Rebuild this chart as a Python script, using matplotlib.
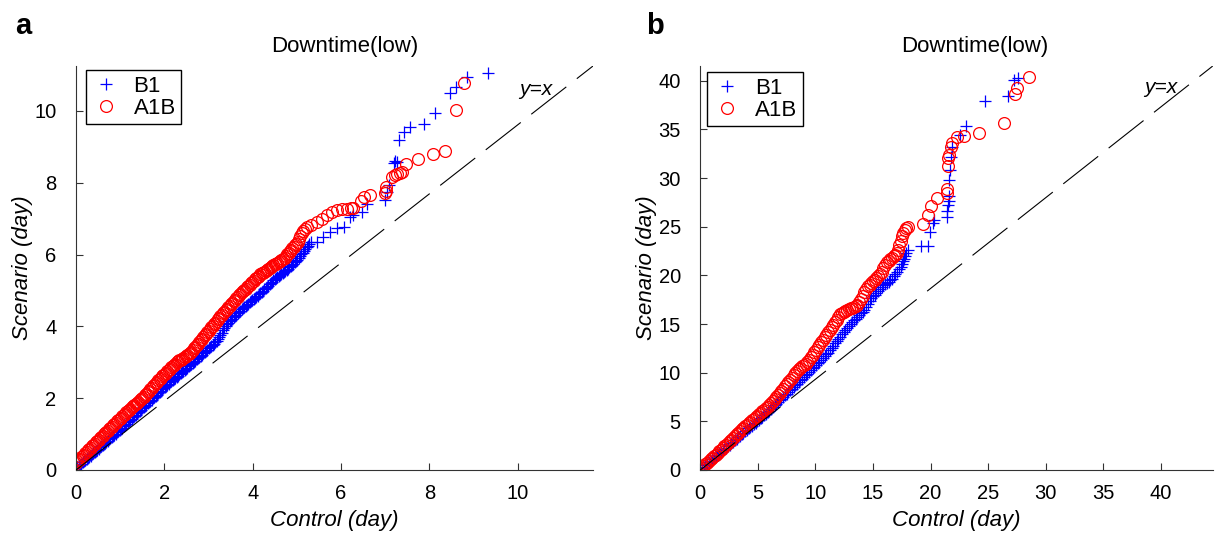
import matplotlib
matplotlib.use("Agg")
import matplotlib.pyplot as plt

plt.rcParams['font.family'] = ['Liberation Sans', 'DejaVu Sans']

# ---------------- Panel a: (control quantile, scenario quantile) in days ----------------
a_b1 = [
    (0.00, 0.050), (0.03, 0.082), (0.06, 0.114), (0.09, 0.146), (0.12, 0.178), (0.15, 0.211),
    (0.18, 0.243), (0.21, 0.275), (0.24, 0.307), (0.27, 0.339), (0.30, 0.371), (0.33, 0.403),
    (0.36, 0.435), (0.39, 0.467), (0.42, 0.499), (0.45, 0.532), (0.48, 0.564), (0.51, 0.596),
    (0.54, 0.628), (0.57, 0.660), (0.60, 0.692), (0.63, 0.724), (0.66, 0.756), (0.69, 0.788),
    (0.72, 0.820), (0.75, 0.853), (0.78, 0.885), (0.81, 0.917), (0.84, 0.949), (0.87, 0.981),
    (0.90, 1.013), (0.93, 1.045), (0.96, 1.077), (0.99, 1.109), (1.02, 1.144), (1.05, 1.180),
    (1.08, 1.216), (1.11, 1.252), (1.14, 1.288), (1.17, 1.324), (1.20, 1.360), (1.23, 1.396),
    (1.26, 1.432), (1.29, 1.468), (1.32, 1.504), (1.35, 1.540), (1.38, 1.576), (1.41, 1.612),
    (1.44, 1.647), (1.47, 1.682), (1.50, 1.717), (1.53, 1.752), (1.56, 1.787), (1.59, 1.822),
    (1.62, 1.857), (1.65, 1.892), (1.68, 1.927), (1.71, 1.962), (1.74, 1.997), (1.77, 2.032),
    (1.80, 2.067), (1.83, 2.102), (1.86, 2.137), (1.89, 2.172), (1.92, 2.207), (1.95, 2.242),
    (1.98, 2.277), (2.01, 2.311), (2.04, 2.342), (2.07, 2.374), (2.10, 2.406), (2.13, 2.438),
    (2.16, 2.470), (2.19, 2.501), (2.22, 2.533), (2.25, 2.565), (2.28, 2.597), (2.31, 2.629),
    (2.34, 2.660), (2.37, 2.692), (2.40, 2.724), (2.43, 2.756), (2.46, 2.788), (2.49, 2.819),
    (2.52, 2.851), (2.55, 2.883), (2.58, 2.915), (2.61, 2.947), (2.64, 2.978), (2.67, 3.011),
    (2.70, 3.045), (2.73, 3.079), (2.76, 3.113), (2.79, 3.147), (2.82, 3.181), (2.85, 3.215),
    (2.88, 3.249), (2.91, 3.283), (2.94, 3.316), (2.97, 3.350), (3.00, 3.384), (3.03, 3.418),
    (3.06, 3.452), (3.09, 3.486), (3.12, 3.520), (3.15, 3.554), (3.18, 3.588), (3.21, 3.641),
    (3.24, 3.703), (3.27, 3.764), (3.30, 3.826), (3.33, 3.887), (3.36, 3.949), (3.39, 4.010),
    (3.42, 4.062), (3.45, 4.099), (3.48, 4.137), (3.51, 4.174), (3.54, 4.211), (3.57, 4.248),
    (3.60, 4.285), (3.63, 4.322), (3.66, 4.359), (3.69, 4.396), (3.72, 4.433), (3.75, 4.471),
    (3.78, 4.508), (3.81, 4.541), (3.84, 4.573), (3.87, 4.604), (3.90, 4.636), (3.93, 4.667),
    (3.96, 4.699), (3.99, 4.731), (4.02, 4.762), (4.05, 4.794), (4.08, 4.825), (4.11, 4.857),
    (4.14, 4.888), (4.17, 4.920), (4.20, 4.956), (4.23, 4.992), (4.26, 5.028), (4.29, 5.064),
    (4.32, 5.100), (4.35, 5.136), (4.38, 5.172), (4.41, 5.208), (4.44, 5.244), (4.47, 5.280),
    (4.50, 5.309), (4.53, 5.338), (4.56, 5.367), (4.59, 5.396), (4.62, 5.425), (4.65, 5.454),
    (4.68, 5.483), (4.71, 5.512), (4.74, 5.541), (4.77, 5.570), (4.80, 5.605), (4.83, 5.640),
    (4.86, 5.676), (4.89, 5.711), (4.92, 5.746), (4.95, 5.781), (4.98, 5.817), (5.01, 5.856),
    (5.04, 5.906), (5.07, 5.955), (5.10, 6.005), (5.13, 6.054), (5.16, 6.103), (5.19, 6.153),
    (5.22, 6.202), (5.25, 6.251), (5.28, 6.301), (5.31, 6.350), (5.45, 6.35), (5.60, 6.49),
    (5.75, 6.63), (5.90, 6.73), (6.06, 6.77), (6.21, 7.05), (6.28, 7.10), (6.47, 7.19),
    (6.59, 7.42), (7.00, 7.51), (7.04, 7.75), (7.08, 7.93), (7.20, 8.55), (7.23, 8.60),
    (7.26, 8.58), (7.30, 9.18), (7.42, 9.42), (7.55, 9.55), (7.87, 9.63), (8.13, 9.94),
    (8.46, 10.51), (8.61, 10.67), (8.84, 10.95), (9.33, 11.07)]

a_a1b = [
    (0.00, 0.200), (0.03, 0.238), (0.06, 0.277), (0.09, 0.315), (0.12, 0.353), (0.15, 0.391),
    (0.18, 0.430), (0.21, 0.468), (0.24, 0.506), (0.27, 0.544), (0.30, 0.583), (0.33, 0.621),
    (0.36, 0.659), (0.39, 0.697), (0.42, 0.734), (0.45, 0.771), (0.48, 0.807), (0.51, 0.843),
    (0.54, 0.880), (0.57, 0.916), (0.60, 0.953), (0.63, 0.989), (0.66, 1.025), (0.69, 1.062),
    (0.72, 1.098), (0.75, 1.135), (0.78, 1.171), (0.81, 1.207), (0.84, 1.244), (0.87, 1.280),
    (0.90, 1.317), (0.93, 1.353), (0.96, 1.389), (0.99, 1.426), (1.02, 1.462), (1.05, 1.499),
    (1.08, 1.535), (1.11, 1.571), (1.14, 1.608), (1.17, 1.642), (1.20, 1.675), (1.23, 1.708),
    (1.26, 1.742), (1.29, 1.775), (1.32, 1.808), (1.35, 1.841), (1.38, 1.874), (1.41, 1.907),
    (1.44, 1.940), (1.47, 1.974), (1.50, 2.007), (1.53, 2.040), (1.56, 2.081), (1.59, 2.123),
    (1.62, 2.164), (1.65, 2.205), (1.68, 2.247), (1.71, 2.288), (1.74, 2.329), (1.77, 2.371),
    (1.80, 2.412), (1.83, 2.454), (1.86, 2.495), (1.89, 2.536), (1.92, 2.574), (1.95, 2.609),
    (1.98, 2.644), (2.01, 2.679), (2.04, 2.715), (2.07, 2.750), (2.10, 2.785), (2.13, 2.820),
    (2.16, 2.856), (2.19, 2.891), (2.22, 2.926), (2.25, 2.961), (2.28, 2.997), (2.31, 3.028),
    (2.34, 3.053), (2.37, 3.077), (2.40, 3.102), (2.43, 3.127), (2.46, 3.151), (2.49, 3.176),
    (2.52, 3.201), (2.55, 3.225), (2.58, 3.250), (2.61, 3.295), (2.64, 3.341), (2.67, 3.386),
    (2.70, 3.431), (2.73, 3.477), (2.76, 3.522), (2.79, 3.567), (2.82, 3.612), (2.85, 3.658),
    (2.88, 3.703), (2.91, 3.748), (2.94, 3.794), (2.97, 3.839), (3.00, 3.884), (3.03, 3.929),
    (3.06, 3.975), (3.09, 4.020), (3.12, 4.064), (3.15, 4.107), (3.18, 4.149), (3.21, 4.192),
    (3.24, 4.234), (3.27, 4.277), (3.30, 4.319), (3.33, 4.362), (3.36, 4.404), (3.39, 4.447),
    (3.42, 4.489), (3.45, 4.532), (3.48, 4.574), (3.51, 4.617), (3.54, 4.659), (3.57, 4.702),
    (3.60, 4.744), (3.63, 4.787), (3.66, 4.829), (3.69, 4.872), (3.72, 4.912), (3.75, 4.948),
    (3.78, 4.984), (3.81, 5.020), (3.84, 5.055), (3.87, 5.091), (3.90, 5.127), (3.93, 5.163),
    (3.96, 5.199), (3.99, 5.235), (4.02, 5.271), (4.05, 5.306), (4.08, 5.342), (4.11, 5.378),
    (4.14, 5.414), (4.17, 5.450), (4.20, 5.475), (4.23, 5.500), (4.26, 5.525), (4.29, 5.550),
    (4.32, 5.575), (4.35, 5.599), (4.38, 5.624), (4.41, 5.649), (4.44, 5.674), (4.47, 5.699),
    (4.50, 5.724), (4.53, 5.749), (4.56, 5.774), (4.59, 5.799), (4.62, 5.824), (4.65, 5.848),
    (4.68, 5.873), (4.72, 5.918), (4.75, 5.960), (4.78, 6.002), (4.81, 6.044), (4.84, 6.086),
    (4.87, 6.128), (4.90, 6.170), (4.93, 6.212), (4.96, 6.254), (4.99, 6.296), (5.02, 6.364),
    (5.05, 6.445), (5.08, 6.526), (5.11, 6.607), (5.13, 6.66), (5.18, 6.72), (5.23, 6.77),
    (5.32, 6.83), (5.45, 6.91), (5.57, 7.00), (5.68, 7.10), (5.80, 7.18), (5.90, 7.24),
    (6.02, 7.26), (6.13, 7.28), (6.22, 7.29), (6.28, 7.30), (6.45, 7.50), (6.51, 7.61),
    (6.66, 7.65), (7.00, 7.72), (7.01, 7.78), (7.02, 7.89), (7.15, 8.16), (7.22, 8.21),
    (7.27, 8.25), (7.33, 8.28), (7.38, 8.30), (7.48, 8.51), (7.73, 8.67), (8.07, 8.81),
    (8.36, 8.88), (8.59, 10.02), (8.79, 10.78)]

# ---------------- Panel b: (control quantile, scenario quantile) in days ----------------
b_b1 = [
    (0.00, 0.02), (0.15, 0.16), (0.30, 0.31), (0.45, 0.47), (0.60, 0.62), (0.75, 0.78),
    (0.90, 0.93), (1.05, 1.08), (1.20, 1.24), (1.35, 1.39), (1.50, 1.55), (1.65, 1.70),
    (1.80, 1.86), (1.95, 2.01), (2.10, 2.16), (2.25, 2.31), (2.40, 2.45), (2.55, 2.60),
    (2.70, 2.76), (2.85, 2.92), (3.00, 3.07), (3.15, 3.22), (3.30, 3.37), (3.45, 3.52),
    (3.60, 3.66), (3.75, 3.81), (3.90, 3.96), (4.05, 4.12), (4.20, 4.27), (4.35, 4.42),
    (4.50, 4.57), (4.65, 4.72), (4.80, 4.87), (4.95, 5.02), (5.10, 5.17), (5.25, 5.32),
    (5.40, 5.47), (5.55, 5.62), (5.70, 5.76), (5.85, 5.93), (6.00, 6.11), (6.15, 6.28),
    (6.30, 6.45), (6.45, 6.63), (6.60, 6.80), (6.75, 6.97), (6.90, 7.15), (7.05, 7.32),
    (7.20, 7.49), (7.35, 7.66), (7.50, 7.84), (7.65, 8.01), (7.80, 8.18), (7.95, 8.36),
    (8.10, 8.53), (8.25, 8.70), (8.40, 8.88), (8.55, 9.05), (8.70, 9.22), (8.85, 9.39),
    (9.00, 9.57), (9.15, 9.74), (9.30, 9.91), (9.45, 10.08), (9.60, 10.26), (9.75, 10.43),
    (9.90, 10.60), (10.05, 10.78), (10.20, 10.96), (10.35, 11.14), (10.50, 11.32),
    (10.65, 11.51), (10.80, 11.69), (10.95, 11.87), (11.10, 12.06), (11.25, 12.30),
    (11.40, 12.53), (11.55, 12.76), (11.70, 13.00), (11.85, 13.23), (12.00, 13.47),
    (12.15, 13.70), (12.30, 13.94), (12.45, 14.17), (12.60, 14.40), (12.75, 14.64),
    (12.90, 14.83), (13.05, 15.01), (13.20, 15.19), (13.35, 15.38), (13.50, 15.56),
    (13.65, 15.74), (13.80, 15.92), (13.95, 16.10), (14.10, 16.28), (14.25, 16.47),
    (14.40, 16.77), (14.55, 17.06), (14.70, 17.36), (14.85, 17.64), (15.00, 17.83),
    (15.15, 18.03), (15.30, 18.22), (15.45, 18.42), (15.60, 18.61), (15.75, 18.80),
    (15.90, 19.00), (16.05, 19.15), (16.20, 19.25), (16.35, 19.36), (16.50, 19.47),
    (16.65, 19.66), (16.80, 19.90), (16.95, 20.14), (17.10, 20.39), (17.25, 20.63),
    (17.40, 20.87), (17.50, 21.13), (17.60, 21.43), (17.70, 21.72), (17.80, 22.01),
    (17.90, 22.31), (18.00, 22.60), (19.16, 23.0), (19.74, 23.0), (19.97, 24.5),
    (20.17, 25.36), (20.30, 25.7), (21.42, 25.97), (21.47, 26.56), (21.55, 27.2),
    (21.62, 27.6), (21.62, 28.2), (21.62, 29.8), (21.70, 30.84), (21.77, 32.2),
    (21.90, 33.2), (22.58, 34.4), (23.07, 35.37), (24.75, 37.87), (26.74, 38.45),
    (27.26, 40.1), (27.55, 40.27)]

b_a1b = [
    (0.00, 0.07), (0.15, 0.24), (0.30, 0.41), (0.45, 0.57), (0.60, 0.74), (0.75, 0.91),
    (0.90, 1.08), (1.05, 1.25), (1.20, 1.41), (1.35, 1.58), (1.50, 1.75), (1.65, 1.92),
    (1.80, 2.09), (1.95, 2.25), (2.10, 2.42), (2.25, 2.60), (2.40, 2.78), (2.55, 2.95),
    (2.70, 3.13), (2.85, 3.30), (3.00, 3.48), (3.15, 3.65), (3.30, 3.83), (3.45, 4.01),
    (3.60, 4.17), (3.75, 4.33), (3.90, 4.48), (4.05, 4.64), (4.20, 4.79), (4.35, 4.95),
    (4.50, 5.10), (4.65, 5.26), (4.80, 5.41), (4.95, 5.57), (5.10, 5.72), (5.25, 5.88),
    (5.40, 6.03), (5.55, 6.19), (5.70, 6.34), (5.85, 6.50), (6.00, 6.71), (6.15, 6.92),
    (6.30, 7.12), (6.45, 7.33), (6.60, 7.54), (6.75, 7.75), (6.90, 7.96), (7.05, 8.16),
    (7.20, 8.37), (7.35, 8.58), (7.50, 8.79), (7.65, 9.01), (7.80, 9.25), (7.95, 9.49),
    (8.10, 9.72), (8.25, 9.96), (8.40, 10.20), (8.55, 10.37), (8.70, 10.52), (8.85, 10.66),
    (9.00, 10.80), (9.15, 10.94), (9.30, 11.08), (9.45, 11.32), (9.60, 11.58), (9.75, 11.83),
    (9.90, 12.09), (10.05, 12.34), (10.20, 12.60), (10.35, 12.86), (10.50, 13.11),
    (10.65, 13.37), (10.80, 13.62), (10.95, 13.88), (11.10, 14.14), (11.25, 14.40),
    (11.40, 14.67), (11.55, 14.93), (11.70, 15.20), (11.85, 15.46), (12.00, 15.73),
    (12.15, 15.99), (12.30, 16.15), (12.45, 16.24), (12.60, 16.33), (12.75, 16.42),
    (12.90, 16.51), (13.05, 16.60), (13.20, 16.69), (13.35, 16.78), (13.50, 16.87),
    (13.65, 16.95), (13.80, 17.26), (13.95, 17.59), (14.10, 17.92), (14.25, 18.24),
    (14.40, 18.57), (14.55, 18.87), (14.70, 19.05), (14.85, 19.22), (15.00, 19.40),
    (15.15, 19.57), (15.30, 19.75), (15.45, 19.92), (15.60, 20.10), (15.75, 20.35),
    (15.90, 20.71), (16.05, 21.08), (16.20, 21.33), (16.35, 21.48), (16.50, 21.64),
    (16.65, 21.79), (16.80, 21.94), (16.95, 22.10), (17.10, 22.25), (17.20, 22.61),
    (17.30, 23.07), (17.40, 23.54), (17.50, 24.00), (17.60, 24.38), (17.75, 24.61),
    (17.90, 24.84), (18.00, 25.00), (19.30, 25.3), (19.80, 26.2), (20.00, 27.1),
    (20.60, 27.9), (21.40, 28.5), (21.45, 28.9), (21.50, 31.2), (21.52, 32.1),
    (21.60, 32.4), (21.80, 33.2), (21.90, 33.6), (22.30, 34.2), (22.90, 34.3),
    (24.20, 34.6), (26.34, 35.6), (27.30, 38.6), (27.50, 39.2), (28.57, 40.4)]

series_labels = ['B1', 'A1B']
a_ticks = [0, 2, 4, 6, 8, 10]
b_ticks = [0, 5, 10, 15, 20, 25, 30, 35, 40]

fig = plt.figure(figsize=(12.2, 5.35), dpi=100)


def setup(ax, b1, a1b, xlim, ylim, ticks, txt_xy, leg_anchor, title_x):
    bx, by = zip(*b1)
    rx, ry = zip(*a1b)
    ax.plot(bx, by, linestyle='none', marker='+', color='#0000ff', markersize=8.5,
            markeredgewidth=0.9, label=series_labels[0], zorder=2)
    ax.plot(rx, ry, linestyle='none', marker='o', markerfacecolor='none',
            markeredgecolor='#ff0000', markersize=8.5, markeredgewidth=0.9,
            label=series_labels[1], zorder=2)
    # reference line drawn corner to corner of the plotting box, as in the original
    ln, = ax.plot([0, xlim[1]], [0, ylim[1]], color='black', linewidth=0.8, zorder=3)
    ln.set_dashes([40, 12])
    ax.set_xlim(*xlim)
    ax.set_ylim(*ylim)
    ax.set_xticks(ticks)
    ax.set_yticks(ticks)
    for s in ['top', 'right']:
        ax.spines[s].set_visible(False)
    for s in ['left', 'bottom']:
        ax.spines[s].set_color('#333333')
        ax.spines[s].set_linewidth(0.8)
    ax.tick_params(direction='in', length=5, width=0.8, labelsize=14.5, color='#333333')
    ax.tick_params(axis='x', pad=10)
    ax.tick_params(axis='y', pad=14)
    ax.set_xlabel('Control (day)', fontsize=16, style='italic', labelpad=5)
    ax.set_ylabel('Scenario (day)', fontsize=16, style='italic', labelpad=1)
    ax.set_title('Downtime(low)', fontsize=16, pad=10, x=title_x)
    ax.text(txt_xy[0], txt_xy[1], 'y=x', fontsize=15, style='italic', ha='center',
            va='center')
    leg = ax.legend(loc='upper left', bbox_to_anchor=leg_anchor, borderaxespad=0,
                    fontsize=16, frameon=True, fancybox=False, edgecolor='black',
                    handlelength=1.3, handletextpad=0.6, borderpad=0.25, labelspacing=0.05,
                    framealpha=1)
    leg.get_frame().set_linewidth(1.0)


ax1 = fig.add_axes([0.0623, 0.1215, 0.4237, 0.755])
setup(ax1, a_b1, a_a1b, (0, 11.7), (0, 11.25), a_ticks, (10.4, 10.6), (0.019, 0.99), 0.52)
ax2 = fig.add_axes([0.574, 0.1215, 0.420, 0.755])
setup(ax2, b_b1, b_a1b, (0, 44.5), (0, 41.5), b_ticks, (40.0, 39.3), (0.014, 0.985), 0.535)

fig.text(0.012, 0.952, 'a', fontsize=21, fontweight='bold', va='center')
fig.text(0.530, 0.952, 'b', fontsize=21, fontweight='bold', va='center')

fig.savefig('out.png', dpi=100)
